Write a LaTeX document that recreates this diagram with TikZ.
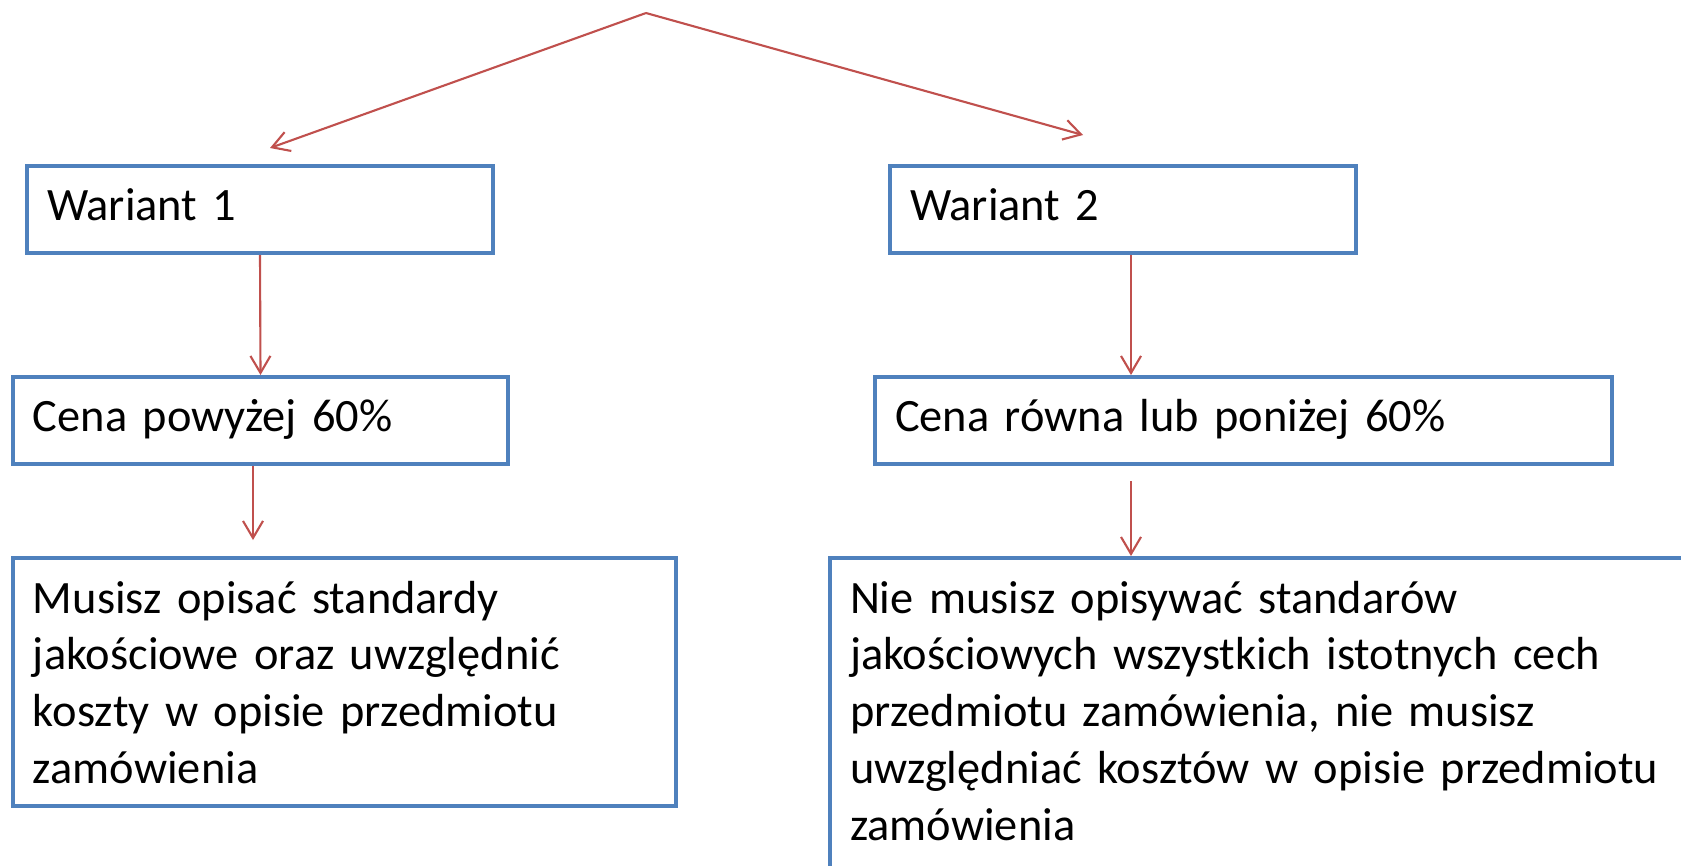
\documentclass[tikz,border=0pt]{standalone}
\usepackage{fontspec}
\setmainfont{Carlito}
\usepackage{tikz}
\usetikzlibrary{positioning,arrows.meta}
\definecolor{BoxBlue}{RGB}{79,129,189}
\definecolor{ArrowRed}{RGB}{192,80,77}
\tikzset{
    box/.style={rectangle, draw=BoxBlue, line width=0.4mm, inner xsep=2mm, inner ysep=1.9mm, align=left, anchor=north west, text height=3.6mm, font=\fontsize{13.2pt}{16.2pt}\selectfont},
    onebox/.style={box, minimum height=8.7mm, inner ysep=0pt, text depth=1.5mm},
    arrow/.style={draw=ArrowRed, line width=0.6pt, -{Straight Barb[length=1.7mm, width=2mm]}}
}
\begin{document}
\begin{tikzpicture}
	\useasboundingbox (0,0) rectangle (16.81,-8.65);
	\clip (0,0) rectangle (16.81,-8.65);

	\node[onebox, minimum width=46.6mm, text width=42.6mm] (w1) at (0.25,-1.64) {Wariant 1};
	\node[onebox, minimum width=46.6mm, text width=42.6mm] (w2) at (8.88,-1.64) {Wariant 2};
	\node[onebox, minimum width=49.5mm, text width=45.5mm] (c1) [below=1.2cm of w1.south west, anchor=north west, xshift=-1.4mm] {Cena powyżej 60\%};
	\node[onebox, minimum width=73.7mm, text width=69.7mm] (c2) [below=1.2cm of w2.south west, anchor=north west, xshift=-1.5mm] {Cena równa lub poniżej 60\%};
	\node[box, minimum width=66.3mm, text width=62.3mm, minimum height=24.8mm, text depth=17.4mm] (m1) [below=0.9cm of c1.south west, anchor=north west] {Musisz opisać standardy\\ jakościowe oraz uwzględnić\\ koszty w opisie przedmiotu\\ zamówienia};
	\node[box, minimum width=90mm, text width=86mm, text depth=30mm] (n) [below=0.9cm of c2.south west, anchor=north west, xshift=-4.5mm] {Nie musisz opisywać standarów\\ jakościowych wszystkich istotnych cech\\ przedmiotu zamówienia, nie musisz\\ uwzględniać kosztów w opisie przedmiotu\\ zamówienia};

	\coordinate (top) at (6.46,-0.13);
	\coordinate (t1) at (2.70,-1.48);
	\coordinate (t2) at (10.83,-1.35);
	\coordinate (m2) at ([xshift=0.8mm]w2.south);
	\coordinate (m3) at ([xshift=-0.75mm]c1.south);

	\draw[arrow] (top) -- (t1);
	\draw[arrow] (top) -- (t2);
	\draw[arrow] (w1.south) -- (c1.north);
	\draw[arrow] (m2) -- (m2 |- c2.north);
	\draw[arrow, shorten >=1.6mm] (m3) -- (m3 |- m1.north);
	\draw[arrow, shorten <=1.5mm] (m2 |- c2.south) -- (m2 |- n.north);
\end{tikzpicture}
\end{document}
